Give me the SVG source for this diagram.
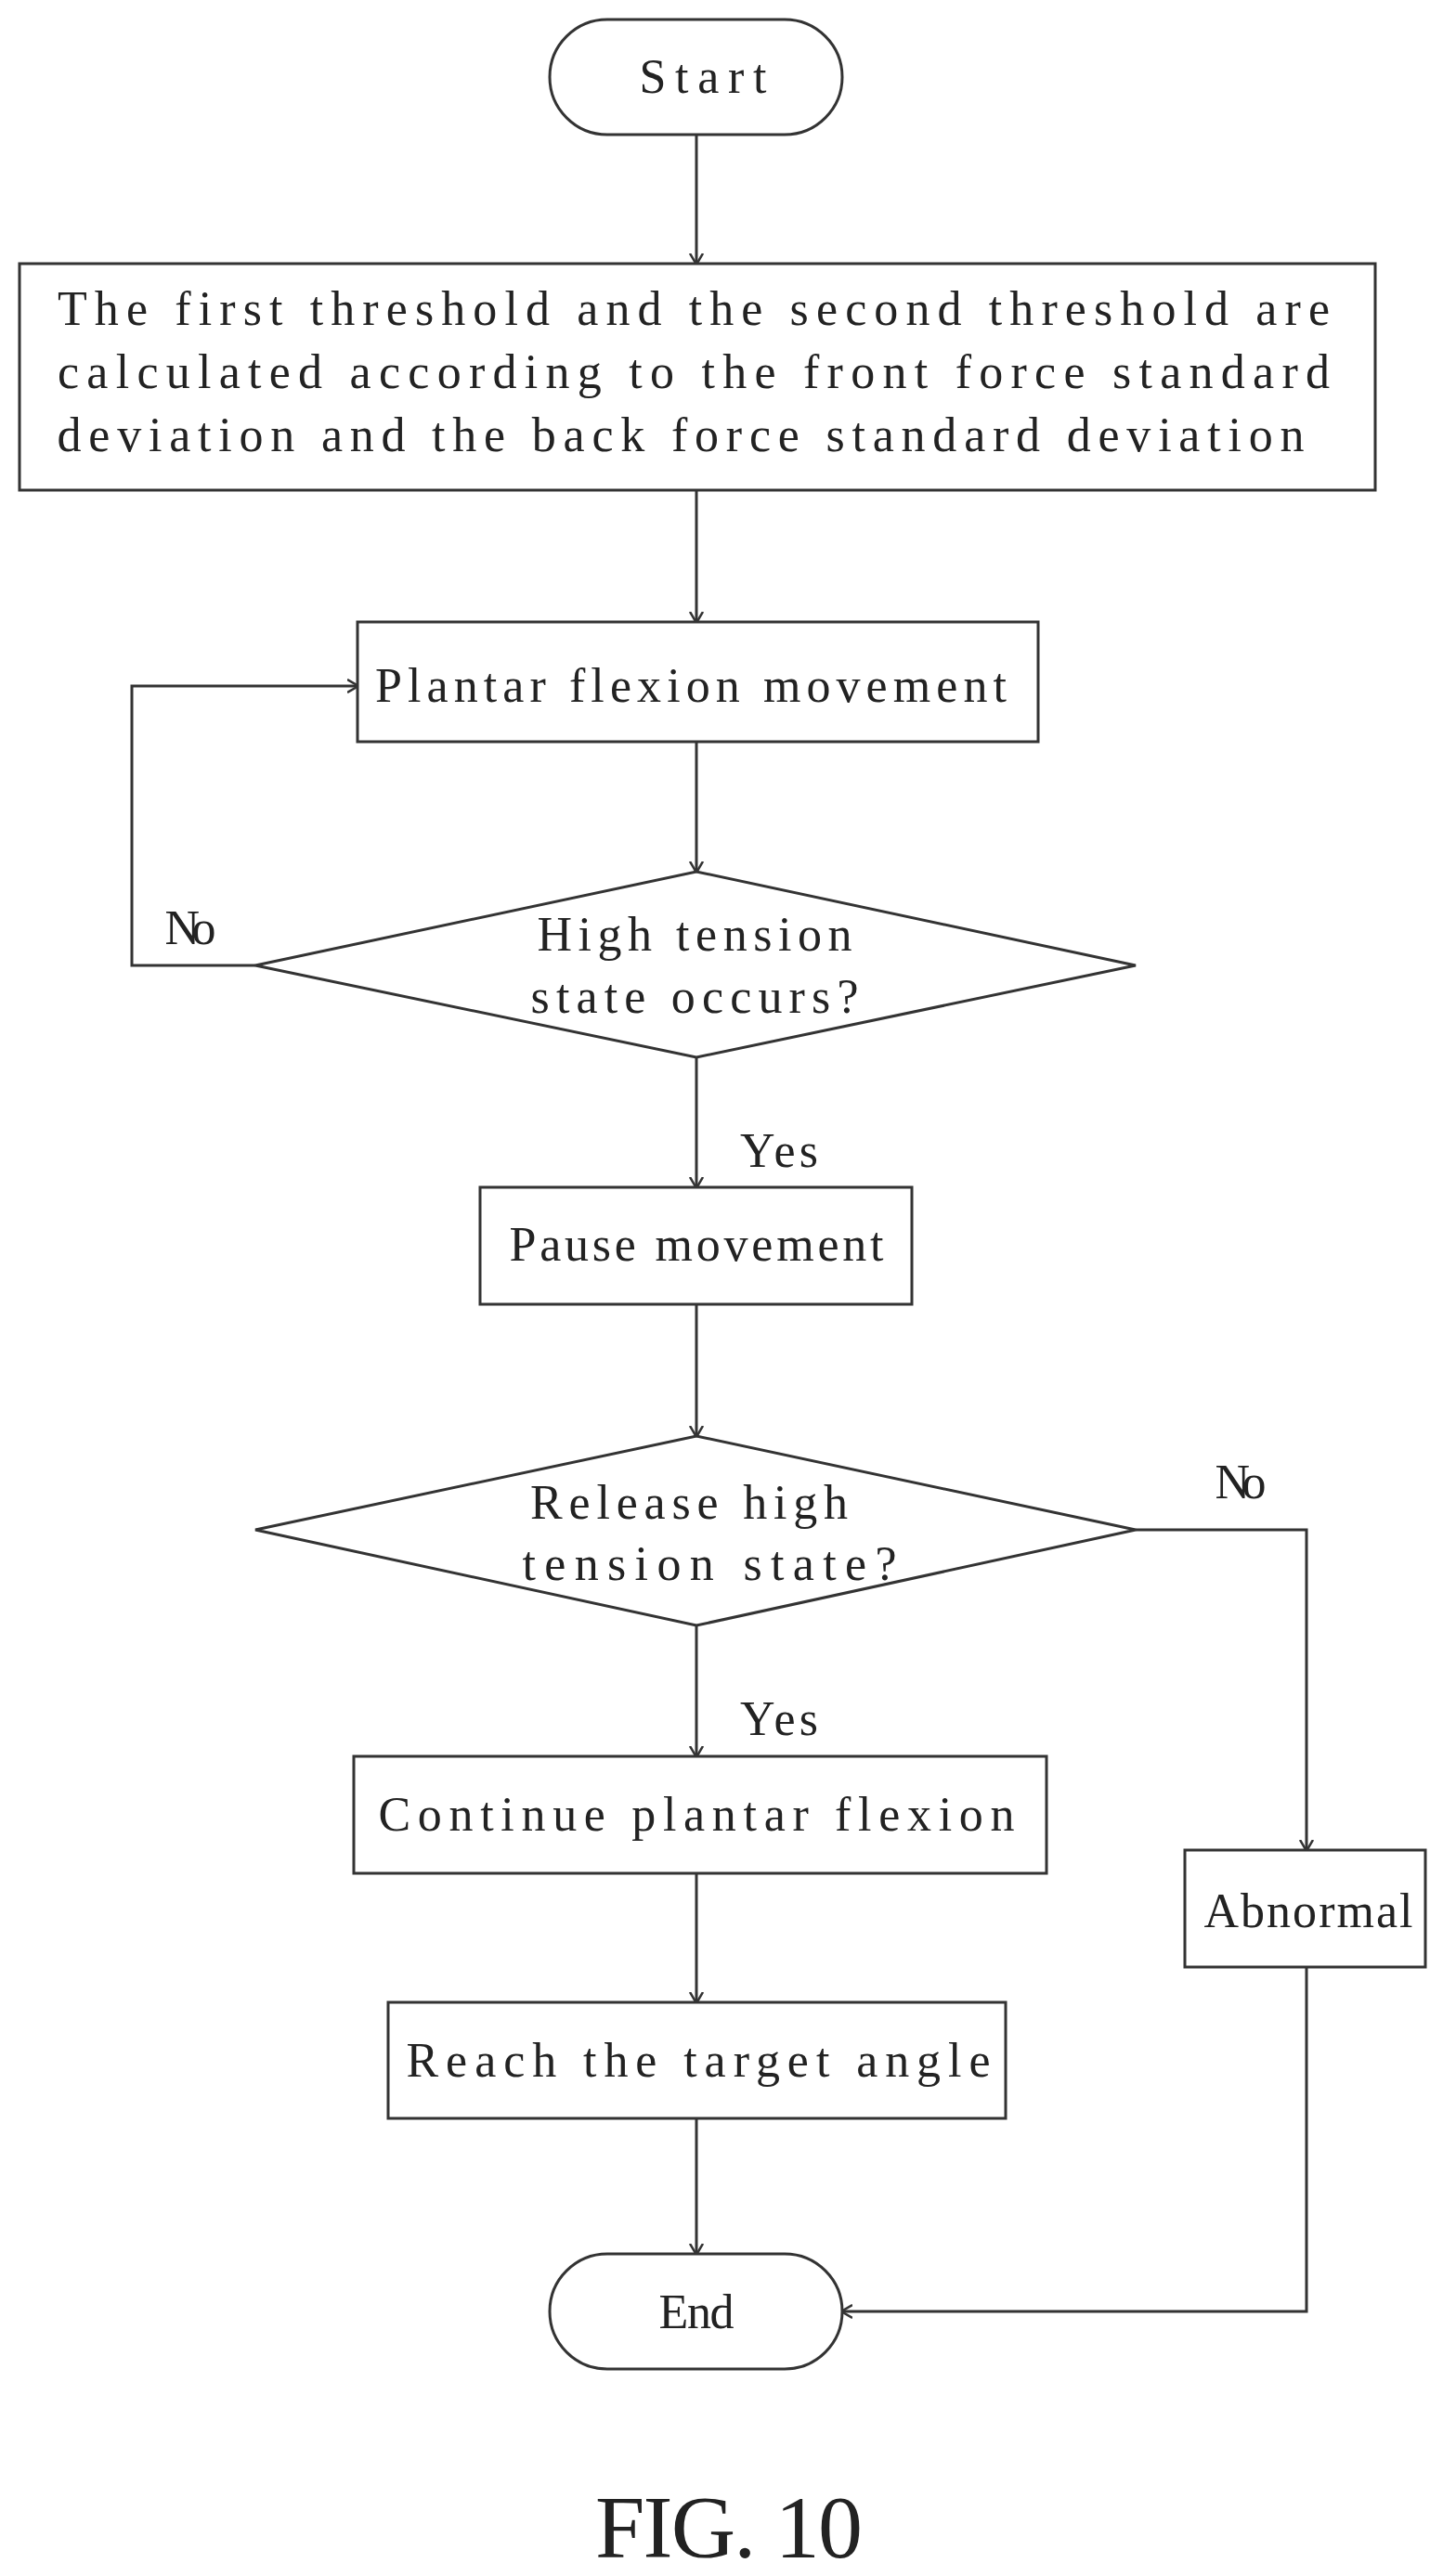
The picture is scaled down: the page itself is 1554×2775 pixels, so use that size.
<svg xmlns="http://www.w3.org/2000/svg" width="1554" height="2775" viewBox="0 0 1554 2775">
<style>
.s{fill:none;stroke:#333;stroke-width:3}
.t{font-family:"Liberation Serif",serif;font-size:52px;fill:#222;text-anchor:middle}
.c{fill:none;stroke:#333;stroke-width:3}
</style>
<defs><marker id="a" markerWidth="12" markerHeight="16" refX="11" refY="8" orient="auto" markerUnits="userSpaceOnUse"><path d="M0,1 L12,8 L0,15" fill="none" stroke="#333" stroke-width="2.5"/></marker></defs>
<rect width="1554" height="2775" fill="#fff"/>
<g id="start"><rect class="s" x="592" y="21" width="315" height="124" rx="62"/><text class="t" x="757" y="100" textLength="137">Start</text></g>
<g id="calc"><rect class="s" x="21" y="284" width="1460" height="244"/>
<text class="t" x="747" y="350" textLength="1370">The first threshold and the second threshold are</text>
<text class="t" x="747" y="418" textLength="1370">calculated according to the front force standard</text>
<text class="t" x="733" y="486" textLength="1343">deviation and the back force standard deviation</text></g>
<g id="plantar"><rect class="s" x="385" y="670" width="733" height="129"/><text class="t" x="744" y="756" textLength="680">Plantar flexion movement</text></g>
<g id="d1"><polygon class="s" points="275,1040 750,939 1223,1040 750,1139"/><text class="t" x="748" y="1024" textLength="339">High tension</text><text class="t" x="748" y="1091" textLength="353">state occurs?</text></g>
<g id="pause"><rect class="s" x="517" y="1279" width="465" height="126"/><text class="t" x="750" y="1358" textLength="403">Pause movement</text></g>
<g id="d2"><polygon class="s" points="275,1648 750,1547 1223,1648 750,1751"/><text class="t" x="742" y="1636" textLength="342">Release high</text><text class="t" x="764" y="1702" textLength="403">tension state?</text></g>
<g id="continue"><rect class="s" x="381" y="1892" width="746" height="126"/><text class="t" x="750" y="1972" textLength="685">Continue plantar flexion</text></g>
<g id="reach"><rect class="s" x="418" y="2157" width="665" height="125"/><text class="t" x="752" y="2237" textLength="629">Reach the target angle</text></g>
<g id="abnormal"><rect class="s" x="1276" y="1993" width="259" height="126"/><text class="t" x="1409" y="2076" textLength="225">Abnormal</text></g>
<g id="end"><rect class="s" x="592" y="2428" width="315" height="124" rx="62"/><text class="t" x="750" y="2508" textLength="81">End</text></g>
<g id="connectors">
<line class="c" x1="750" y1="145" x2="750" y2="284" marker-end="url(#a)"/>
<line class="c" x1="750" y1="528" x2="750" y2="670" marker-end="url(#a)"/>
<line class="c" x1="750" y1="799" x2="750" y2="939" marker-end="url(#a)"/>
<polyline class="c" points="275,1040 142,1040 142,739 385,739" marker-end="url(#a)"/>
<line class="c" x1="750" y1="1139" x2="750" y2="1279" marker-end="url(#a)"/>
<line class="c" x1="750" y1="1405" x2="750" y2="1547" marker-end="url(#a)"/>
<line class="c" x1="750" y1="1751" x2="750" y2="1892" marker-end="url(#a)"/>
<polyline class="c" points="1223,1648 1407,1648 1407,1993" marker-end="url(#a)"/>
<line class="c" x1="750" y1="2018" x2="750" y2="2157" marker-end="url(#a)"/>
<line class="c" x1="750" y1="2282" x2="750" y2="2428" marker-end="url(#a)"/>
<polyline class="c" points="1407,2119 1407,2490 907,2490" marker-end="url(#a)"/>
</g>
<g id="labels">
<text class="t" x="205" y="1017" textLength="55">No</text>
<text class="t" x="839" y="1257" textLength="84">Yes</text>
<text class="t" x="1336" y="1614" textLength="55">No</text>
<text class="t" x="839" y="1869" textLength="84">Yes</text>
<text x="785" y="2755" textLength="288" style="font-family:'Liberation Serif',serif;font-size:96px;fill:#222;text-anchor:middle">FIG. 10</text>
</g>
</svg>
